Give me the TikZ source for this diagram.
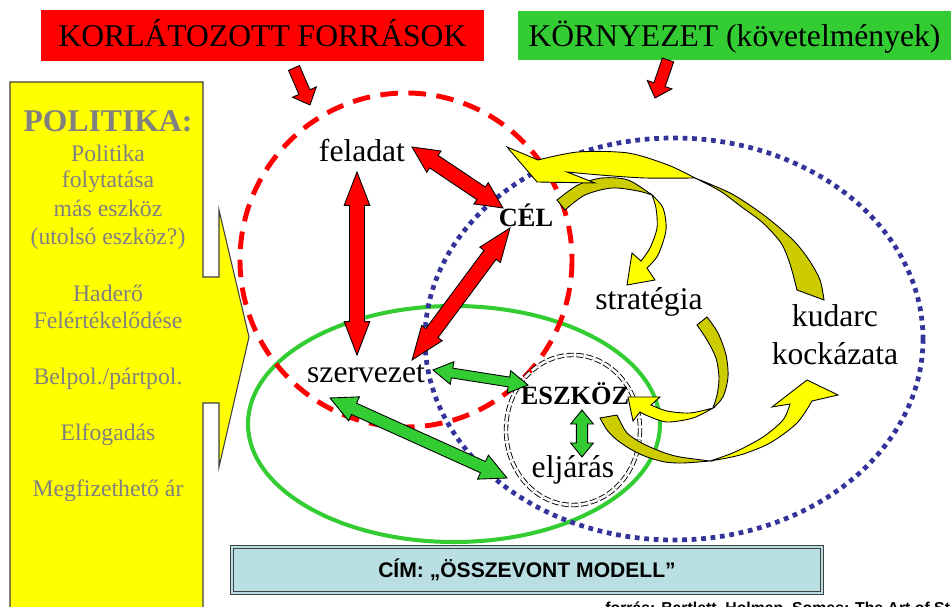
\documentclass[tikz,border=0pt]{standalone}
\usepackage{fontspec}
\setmainfont{Liberation Serif}
\setsansfont{Liberation Sans}
\usetikzlibrary{calc}

\definecolor{kred}{HTML}{FF0000}
\definecolor{kgreen}{HTML}{33CC33}
\definecolor{kblue}{HTML}{333399}
\definecolor{kyellow}{HTML}{FFFF00}
\definecolor{kolive}{HTML}{CCCC00}
\definecolor{kgray}{HTML}{808080}
\definecolor{kcap}{HTML}{B9DFE3}

\newcommand{\arrowpos}[2]{%
  \path let \p1=(#1), \p2=(#2) in
    \pgfextra{%
      \pgfmathsetmacro{\arang}{atan2(\y2-\y1,\x2-\x1)}%
      \pgfmathsetmacro{\arlen}{veclen(\x2-\x1,\y2-\y1)}%
      \xdef\arang{\arang}\xdef\arlen{\arlen}%
      \xdef\arx{\x1}\xdef\ary{\y1}};}

\newcommand{\dblarrow}[6]{%
  \arrowpos{#1}{#2}%
  \draw[arrowline, fill=#3, shift={(\arx,\ary)}, rotate=\arang]
    (0pt,0pt) -- (#6,#5) -- (#6,#4) -- ({\arlen pt-#6},#4) -- ({\arlen pt-#6},#5)
    -- (\arlen pt,0pt) -- ({\arlen pt-#6},-#5) -- ({\arlen pt-#6},-#4) -- (#6,-#4) -- (#6,-#5) -- cycle;}

\newcommand{\sglarrow}[6]{%
  \arrowpos{#1}{#2}%
  \draw[arrowline, fill=#3, shift={(\arx,\ary)}, rotate=\arang]
    (0pt,#4) -- ({\arlen pt-#6},#4) -- ({\arlen pt-#6},#5) -- (\arlen pt,0pt)
    -- ({\arlen pt-#6},-#5) -- ({\arlen pt-#6},-#4) -- (0pt,-#4) -- cycle;}

\begin{document}
\begin{tikzpicture}[x=0.02cm, y=-0.02cm,
    arrowline/.style={draw=black, line width=0.5pt, line join=miter},
    curvfront/.style={arrowline, fill=kyellow},
    curvback/.style={arrowline, fill=kolive},
    banner/.style={inner sep=0pt, font=\fontsize{18}{21}\selectfont, text height=16pt, text depth=4pt},
    lbl/.style={inner sep=0pt, anchor=base, font=\fontsize{18}{21.6}\selectfont},
    keylbl/.style={inner sep=0pt, anchor=base, font=\bfseries\fontsize{15}{18}\selectfont},
    poltext/.style={inner sep=0pt, anchor=base, text=kgray, font=\fontsize{13.5}{16}\selectfont}]
\useasboundingbox (0,0) rectangle (951,607);

\node[banner, fill=kred, minimum width=8.86cm, minimum height=1.02cm] (korlat) at (262.5,35.5) {KORLÁTOZOTT FORRÁSOK};
\node[banner, fill=kgreen, minimum width=8.66cm, minimum height=0.98cm] (kornyezet) at (734.5,35.5) {KÖRNYEZET (követelmények)};

\coordinate (ko1) at (294,68);
\coordinate (ko2) at (310,105);
\coordinate (kr1) at (668,60);
\coordinate (kr2) at (655,98);
\sglarrow{ko1}{ko2}{kred}{3.4pt}{7.4pt}{8pt}
\sglarrow{kr1}{kr2}{kred}{3.4pt}{7.4pt}{8pt}

\draw[draw=black!75, fill=kyellow, line width=0.6pt] (10,82) -- (203,82) -- (203,277) -- (219,277) -- (219,210)
  -- (249,337) -- (219,467) -- (219,403) -- (203,403) -- (203,615) -- (10,615) -- cycle;
\node[inner sep=0pt, anchor=base, text=kgray, font=\bfseries\fontsize{18}{21}\selectfont] (politika) at (108,132) {POLITIKA:};
\foreach \yy/\txt [count=\i] in {162/Politika, 188/folytatása, 217/más eszköz, 245/(utolsó eszköz?),
    302/Haderő, 329/Felértékelődése, 385/{Belpol./pártpol.}, 441/Elfogadás, 497/Megfizethető ár}
  \node[poltext] (pol\i) at (108,\yy) {\txt};

\draw[kgreen, line width=2.3pt] (454,424) ellipse[x radius=206, y radius=118];
\draw[kred, line width=2.8pt, dash pattern=on 10pt off 6pt] (406,260) ellipse[x radius=166, y radius=167];
\draw[kblue, line width=2.7pt, dash pattern=on 2.7pt off 2.7pt] (674,339) ellipse[x radius=249, y radius=201];
\draw[double, dash pattern=on 4pt off 1.5pt, line width=0.5pt, double distance=1.5pt] (573,430) ellipse[x radius=67, y radius=75];

\coordinate (fa1) at (357,172);
\coordinate (sz1) at (357,355);
\coordinate (fa2) at (412,147);
\coordinate (ce1) at (503,208);
\coordinate (ce2) at (510,228);
\coordinate (sz2) at (412,360);
\coordinate (sz3) at (433,370);
\coordinate (es1) at (528,385);
\coordinate (sz4) at (330,398);
\coordinate (el1) at (507,478);
\coordinate (es2) at (582,410);
\coordinate (el2) at (582,457);
\dblarrow{fa1}{sz1}{kred}{4.3pt}{7.3pt}{19pt}
\dblarrow{fa2}{ce1}{kred}{4.3pt}{7.3pt}{15pt}
\dblarrow{ce2}{sz2}{kred}{4.3pt}{7.3pt}{19pt}
\dblarrow{sz3}{es1}{kgreen}{2.8pt}{6.5pt}{11pt}
\dblarrow{sz4}{el1}{kgreen}{3.5pt}{7.5pt}{15pt}
\dblarrow{es2}{el2}{kgreen}{3.2pt}{6.5pt}{8pt}

\draw[curvback] plot[smooth] coordinates {(557,200) (578,185) (602,178) (628,180) (652,195)}
  -- plot[smooth] coordinates {(652,195) (638,191) (612,188) (585,195) (565,210)} -- cycle;
\draw[curvfront] plot[smooth] coordinates {(652,195) (663,208) (666,230) (658,255) (647,268)}
  -- (655,280) -- (627,285) -- (632,253)
  -- plot[smooth] coordinates {(641,261) (650,248) (657,228) (656,208) (652,195)} -- cycle;

\draw[curvback] plot[smooth] coordinates {(695,178) (732,194) (765,216) (793,240) (809,260) (820,280) (824,300)}
  -- plot[smooth] coordinates {(797,290) (790,264) (781,243) (763,223) (743,208) (720,191) (695,178)} -- cycle;
\draw[curvfront] (507,147) -- (537,182) -- (595,183)
  -- plot[smooth] coordinates {(567,172) (600,175) (645,178) (695,178)}
  -- plot[smooth] coordinates {(695,178) (668,165) (628,153) (578,152) (538,160)} -- cycle;

\draw[curvback] plot[smooth] coordinates {(707,317) (718,333) (726,355) (728,377) (723,397) (713,408)}
  -- plot[smooth] coordinates {(713,408) (717,395) (719,378) (716,358) (707,340) (697,325)} -- cycle;
\draw[curvfront] plot[smooth] coordinates {(713,408) (693,418) (667,422) (648,416) (640,412)}
  -- (633,421) -- (628,397) -- (660,397)
  -- plot[smooth] coordinates {(651,405) (667,411) (690,413) (713,408)} -- cycle;

\draw[curvback] plot[smooth] coordinates {(600,418) (607,430) (617,440) (632,450) (647,457) (665,462) (683,463) (710,461)}
  -- plot[smooth] coordinates {(710,461) (680,457) (665,453) (650,447) (638,441) (627,433) (622,425) (617,415)} -- cycle;
\draw[curvfront] plot[smooth] coordinates {(710,461) (740,455) (770,443) (797,423) (812,401)}
  -- (838,395) -- (807,380) -- (772,407)
  -- plot[smooth] coordinates {(790,404) (783,420) (763,437) (735,452) (710,461)} -- cycle;

\node[lbl] (feladat) at (362,162) {feladat};
\node[keylbl] (cel) at (526,227) {CÉL};
\node[lbl] (szervezet) at (366,383) {szervezet};
\node[keylbl] (eszkoz) at (575,405) {ESZKÖZ};
\node[lbl] (eljaras) at (573,478) {eljárás};
\node[lbl] (strategia) at (649,310) {stratégia};
\node[lbl, anchor=center, align=center] (kudarc) at (835,335) {kudarc\\kockázata};

\node[draw=black!75, fill=kcap, double=kcap, double distance=1.4pt, line width=0.6pt,
  minimum width=11.8cm, minimum height=0.92cm, inner sep=0pt, text height=8.6pt, text depth=0pt,
  font=\sffamily\bfseries\fontsize{12}{14}\selectfont] (cim) at (527,570) {CÍM: „ÖSSZEVONT MODELL”};
\node[inner sep=0pt, anchor=base west, font=\sffamily\bfseries\fontsize{9}{11}\selectfont] (forras) at (605,614)
  {forrás: Bartlett, Holman, Somes: The Art of Strategy and Force Planning};
\end{tikzpicture}
\end{document}
